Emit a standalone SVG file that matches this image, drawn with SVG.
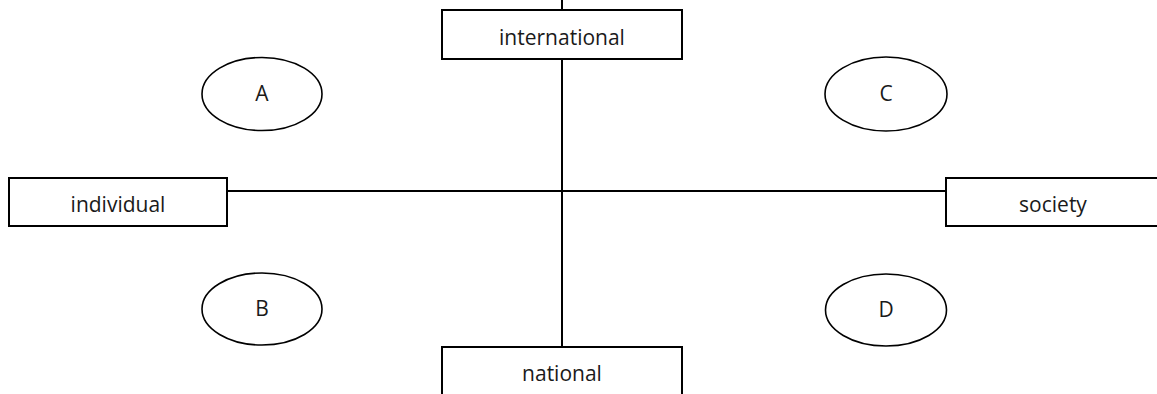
<svg xmlns="http://www.w3.org/2000/svg" width="1157" height="394" viewBox="0 0 1157 394">
<style>
.box{fill:#fff;stroke:#000;stroke-width:2}
.ell{fill:#fff;stroke:#000;stroke-width:1.6}
.ln{stroke:#000;stroke-width:2;fill:none}
text{font-family:"Open Sans","Liberation Sans",sans-serif;font-size:21px;fill:#1a1a1a;text-anchor:middle}
</style>
<rect width="1157" height="394" fill="#fff"/>
<g id="connectors">
<line class="ln" x1="562" y1="0" x2="562" y2="347"/>
<line class="ln" x1="227" y1="191" x2="946" y2="191"/>
</g>
<g id="international">
<rect class="box" x="442" y="10" width="240" height="49"/>
<text x="562" y="45">international</text>
</g>
<g id="national">
<rect class="box" x="442" y="347" width="240" height="60"/>
<text x="562" y="381">national</text>
</g>
<g id="individual">
<rect class="box" x="9" y="178" width="218" height="48"/>
<text x="118" y="212">individual</text>
</g>
<g id="society">
<rect class="box" x="946" y="178" width="218" height="48"/>
<text x="1053" y="212">society</text>
</g>
<g id="A">
<ellipse class="ell" cx="262" cy="94" rx="60" ry="36.5"/>
<text x="262" y="101">A</text>
</g>
<g id="C">
<ellipse class="ell" cx="886" cy="94" rx="61" ry="37"/>
<text x="886" y="101">C</text>
</g>
<g id="B">
<ellipse class="ell" cx="262" cy="309" rx="60" ry="36"/>
<text x="262" y="316">B</text>
</g>
<g id="D">
<ellipse class="ell" cx="886" cy="310" rx="60.5" ry="36"/>
<text x="886" y="317">D</text>
</g>
</svg>
